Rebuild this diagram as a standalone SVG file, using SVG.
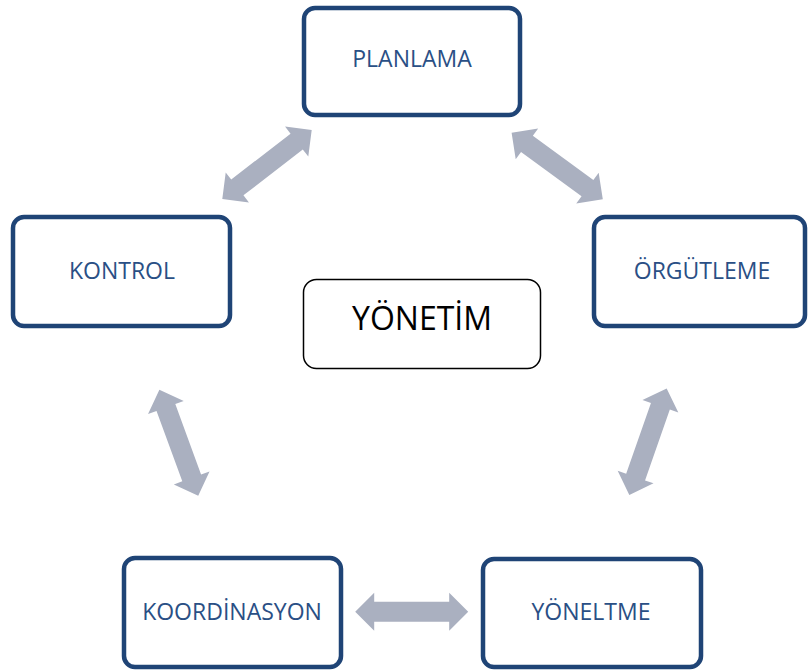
<svg xmlns="http://www.w3.org/2000/svg" xmlns:xlink="http://www.w3.org/1999/xlink" width="808" height="671" viewBox="0 0 808 671">
<style>
.box{fill:#ffffff;stroke:#1f4476;stroke-width:4.5}
.lbl{font-family:"Open Sans","Liberation Sans",sans-serif;font-size:23px;fill:#2a4f85;text-anchor:middle}
.center{fill:#ffffff;stroke:#000000;stroke-width:1.5}
.ctext{font-family:"Open Sans","Liberation Sans",sans-serif;font-size:32px;fill:#000000;text-anchor:middle}
.arr{fill:#aab0c0}
</style>
<defs>
<path id="dblarrow" d="M -56.5,0 L -37.5,-19 L -37.5,-10 L 37.5,-10 L 37.5,-19 L 56.5,0 L 37.5,19 L 37.5,10 L -37.5,10 L -37.5,19 Z"/>
</defs>
<rect width="808" height="671" fill="#ffffff"/>
<g id="connectors" class="arr">
<use xlink:href="#dblarrow" transform="translate(267,164.5) rotate(-37.7)"/>
<use xlink:href="#dblarrow" transform="translate(557.2,166) rotate(36.2)"/>
<use xlink:href="#dblarrow" transform="translate(648,441.7) rotate(109.3)"/>
<use xlink:href="#dblarrow" transform="translate(178.8,442.7) rotate(69.9)"/>
<use xlink:href="#dblarrow" transform="translate(411.7,611.7)"/>
</g>
<g id="planlama">
<rect class="box" x="304" y="8" width="216" height="107" rx="11"/>
<text class="lbl" x="412" y="67">PLANLAMA</text>
</g>
<g id="orgutleme">
<rect class="box" x="594" y="217" width="211" height="109" rx="11"/>
<text class="lbl" x="702" y="279">ÖRGÜTLEME</text>
</g>
<g id="kontrol">
<rect class="box" x="13" y="217" width="217" height="109" rx="11"/>
<text class="lbl" x="122" y="279">KONTROL</text>
</g>
<g id="koordinasyon">
<rect class="box" x="124" y="558" width="217" height="109" rx="11"/>
<text class="lbl" x="232" y="620">KOORDİNASYON</text>
</g>
<g id="yoneltme">
<rect class="box" x="483" y="559" width="218" height="108" rx="11"/>
<text class="lbl" x="591" y="620">YÖNELTME</text>
</g>
<g id="yonetim">
<rect class="center" x="303.5" y="279.5" width="237" height="89" rx="13"/>
<text class="ctext" x="422" y="330">YÖNETİM</text>
</g>
</svg>
